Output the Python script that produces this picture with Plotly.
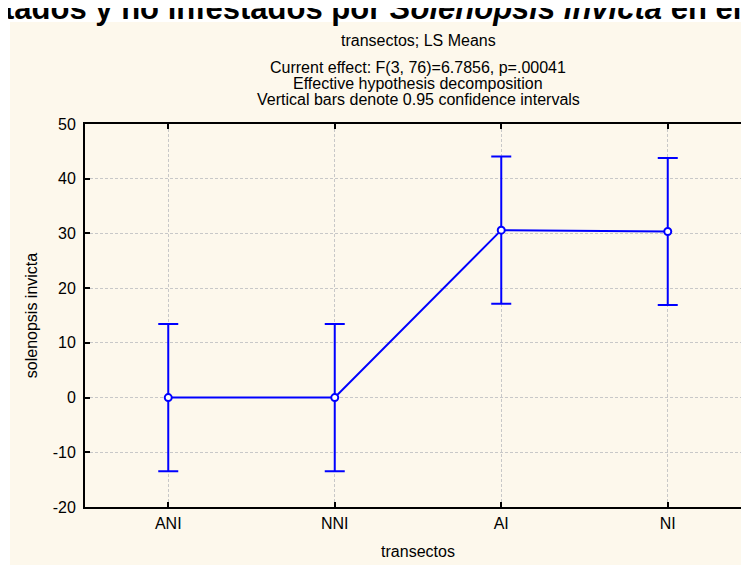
import plotly.graph_objects as go

categories = ["ANI", "NNI", "AI", "NI"]
means = [0.0, 0.0, 30.6, 30.35]
ci_half = [13.45, 13.45, 13.45, 13.45]
y_ticks = [-20, -10, 0, 10, 20, 30, 40, 50]
y_tick_text = ["-20", "-10", "0", "10", "20", "30", "40", "50"]

W, H = 749, 565
L, R, T, B = 77, 6, 116, 66
ph = H - T - B
pw = W - L - R

fig = go.Figure()
fig.add_trace(go.Scatter(
    x=categories, y=means, mode="lines+markers",
    line=dict(color="#0000FF", width=2),
    marker=dict(symbol="circle", size=7, color="white", line=dict(width=2, color="#0000FF")),
    error_y=dict(type="data", array=ci_half, visible=True, color="#0000FF", thickness=2, width=10),
    showlegend=False, hoverinfo="skip",
))

font = "Liberation Sans, Arial, sans-serif"
fig.update_layout(
    width=W, height=H,
    margin=dict(l=L, r=R, t=T, b=B),
    paper_bgcolor="white", plot_bgcolor="white",
    font=dict(family=font, size=16, color="black"),
    shapes=[dict(type="rect", xref="paper", yref="paper",
                 x0=(2 - L) / pw, x1=(W - L) / pw,
                 y0=-(B - 3) / ph, y1=1 + (T - 14) / ph,
                 fillcolor="#FDF8EC", line=dict(width=0), layer="below")],
    xaxis=dict(type="category", range=[-0.5, 3.5], showline=True, mirror="ticks",
               linecolor="black", linewidth=2, ticks="inside", ticklen=5, tickwidth=2,
               tickcolor="black", showgrid=True, gridcolor="#C8C8C8", griddash="3px,2px",
               gridwidth=1, tickfont=dict(size=16), zeroline=False, automargin=False,
               ticklabelstandoff=1,
               title=dict(text="transectos", font=dict(size=16), standoff=15)),
    yaxis=dict(range=[-20, 50], tickvals=y_ticks, ticktext=y_tick_text, showline=True,
               mirror="ticks", linecolor="black", linewidth=2, ticks="inside", ticklen=5,
               tickwidth=2, tickcolor="black", showgrid=True, gridcolor="#C8C8C8",
               griddash="3px,2px", gridwidth=1, tickfont=dict(size=16), zeroline=False,
               automargin=False, ticklabelstandoff=4,
               title=dict(text="solenopsis invicta", font=dict(size=16), standoff=11)),
)

def py(px):
    return 1 + (T - px) / ph

anns = [
    ("transectos; LS Means", 33),
    ("Current effect: F(3, 76)=6.7856, p=.00041", 59),
    ("Effective hypothesis decomposition", 75),
    ("Vertical bars denote 0.95 confidence intervals", 91),
]
for txt, ypx in anns:
    fig.add_annotation(text=txt, xref="paper", yref="paper", x=0.5, y=py(ypx),
                       xanchor="center", yanchor="middle", showarrow=False,
                       font=dict(size=16, family=font))

fig.add_annotation(text="tados y no infestados por <i>Solenopsis invicta</i> en el área",
                   xref="paper", yref="paper", x=(-6 - L) / pw, y=py(0),
                   xanchor="left", yanchor="middle", showarrow=False,
                   font=dict(size=31, family=font, color="black", weight="bold"))

fig.write_html("out.html")
